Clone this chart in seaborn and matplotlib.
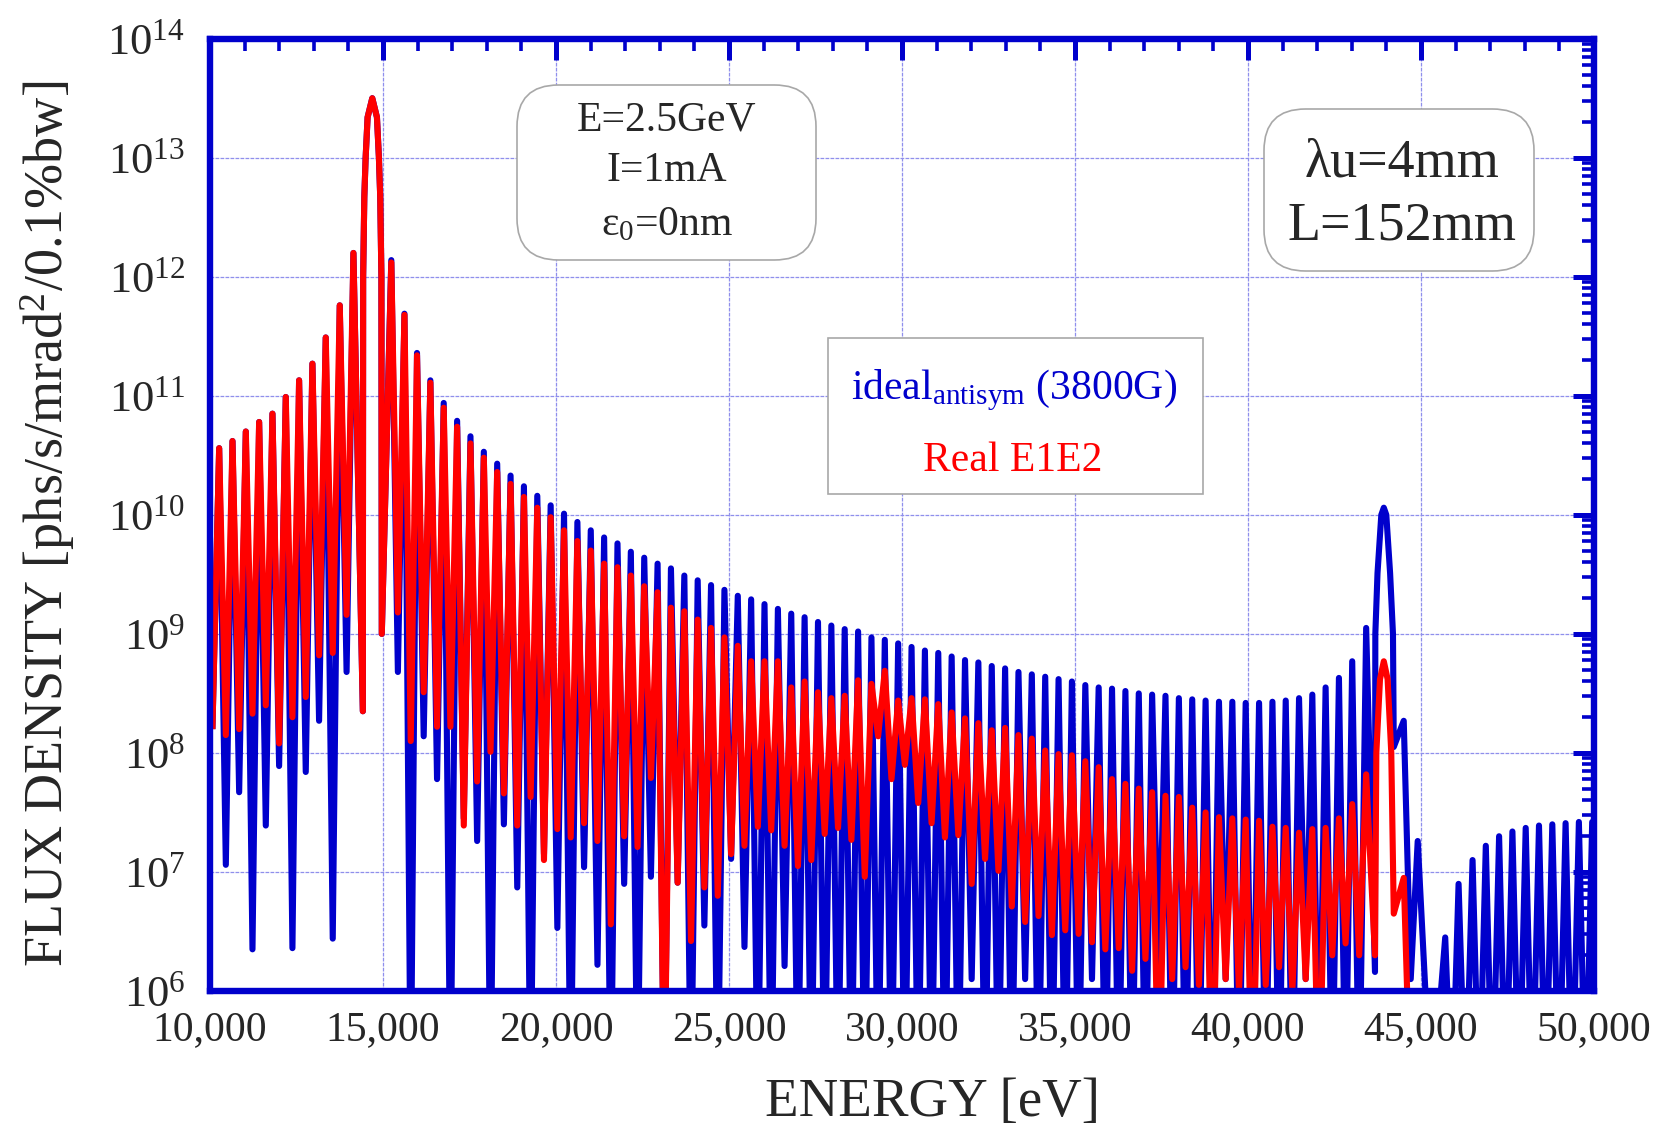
import matplotlib
matplotlib.use("Agg")
import matplotlib.pyplot as plt
from matplotlib.patches import FancyBboxPatch, Rectangle
from matplotlib.ticker import MultipleLocator, LogLocator, FuncFormatter, NullFormatter, FixedLocator
import numpy as np
import pandas as pd
import seaborn as sns

# ---------------- data ----------------
# photon energy of each spectral lobe maximum [eV]
lobe_energy = [
    10265, 10650, 11035, 11420, 11805, 12190, 12575, 12960, 13345, 13750, 14145,
    14690,
    15240, 15620,
    15983, 16369, 16755, 17142, 17528, 17914, 18300, 18687, 19073, 19459, 19846, 20232, 20618,
    21005, 21391, 21777, 22163, 22550, 22936, 23322, 23709, 24095, 24481, 24868, 25254, 25640,
    26026, 26413, 26799, 27185, 27572, 27958, 28344, 28731, 29117, 29503, 29889, 30276, 30662,
    31048, 31435, 31821, 32207, 32594, 32980, 33366, 33752, 34139, 34525, 34911, 35298, 35684,
    36070, 36457, 36843, 37229, 37615, 38002, 38388, 38774, 39161, 39547, 39933, 40320,
    40706, 41090, 41475, 41859, 42243, 42628, 43012, 43415,
    43925, 44501, 44905,
    45700, 46086, 46490, 46873, 47257, 47642, 48026, 48410, 48795, 49179, 49563, 49948,
]

# log10 of flux density at each lobe maximum
ideal_peak_log = [
    10.56, 10.62, 10.70, 10.78, 10.85, 10.99, 11.13, 11.27, 11.49, 11.76, 12.20,
    13.50,
    12.14, 11.69,
    11.36, 11.13, 10.94, 10.79, 10.66, 10.53, 10.43, 10.33, 10.24, 10.16, 10.08, 10.01, 9.94,
    9.87, 9.81, 9.76, 9.69, 9.64, 9.59, 9.55, 9.49, 9.45, 9.41, 9.37, 9.32, 9.29,
    9.25, 9.21, 9.17, 9.14, 9.10, 9.07, 9.04, 9.02, 8.97, 8.95, 8.92, 8.89, 8.86,
    8.84, 8.81, 8.78, 8.76, 8.73, 8.71, 8.68, 8.66, 8.64, 8.62, 8.60, 8.57, 8.55,
    8.54, 8.52, 8.50, 8.49, 8.48, 8.46, 8.45, 8.44, 8.43, 8.43, 8.42, 8.42,
    8.43, 8.44, 8.46, 8.49, 8.55, 8.63, 8.77, 9.05,
    10.06, 8.27, 7.26,
    6.45, 6.90, 7.10, 7.22, 7.30, 7.34, 7.37, 7.39, 7.40, 7.41, 7.42, 7.42,
]
real_peak_log = [
    10.56, 10.62, 10.70, 10.78, 10.85, 10.99, 11.13, 11.27, 11.49, 11.76, 12.20,
    13.50,
    12.12, 11.68,
    11.34, 11.11, 10.90, 10.74, 10.60, 10.48, 10.36, 10.26, 10.15, 10.06, 9.98, 9.87, 9.78,
    9.70, 9.59, 9.56, 9.49, 9.40, 9.35, 9.22, 9.19, 9.12, 9.05, 8.97, 8.90, 8.77,
    8.77, 8.77, 8.55, 8.60, 8.51, 8.46, 8.48, 8.61, 8.58, 8.69, 8.44, 8.46, 8.45,
    8.41, 8.34, 8.29, 8.25, 8.19, 8.21, 8.15, 8.12, 8.02, 7.99, 7.98, 7.93, 7.88,
    7.78, 7.74, 7.70, 7.67, 7.64, 7.63, 7.54, 7.50, 7.46, 7.45, 7.44, 7.43,
    7.38, 7.37, 7.33, 7.36, 7.37, 7.45, 7.57, 7.82,
    8.77, 6.95, 5.50,
    5.90, 5.90, 5.90, 5.90, 5.90, 5.90, 5.90, 5.90, 5.90, 5.90, 5.90, 5.90,
]

# log10 of flux density at the minimum between consecutive lobes
ideal_dip_log = [
    7.06, 7.67, 6.35, 7.39, 7.89, 6.36, 7.84, 8.27, 6.44, 8.68,
    8.35, 9.00, 8.68, 5.0, 8.14, 7.78, 5.0, 7.45, 7.26, 5.0,
    7.40, 6.87, 5.0, 7.15, 6.53, 5.0, 7.04, 6.22, 5.0, 6.90,
    5.0, 6.96, 5.0, 6.91, 5.0, 6.55, 5.0, 7.11, 6.37, 5.0,
    5.0, 6.21, 5.0, 5.0, 5.0, 5.0, 5.0, 5.0, 5.0, 5.0,
    5.0, 5.0, 5.0, 5.0, 5.0, 6.1, 5.0, 5.0, 5.0, 6.1,
    5.0, 5.0, 5.0, 5.0, 6.1, 5.0, 5.0, 5.0, 5.0, 6.1,
    5.0, 5.0, 5.0, 5.0, 6.1, 5.0, 5.0, 5.0, 5.0, 5.0,
    6.1, 5.0, 5.0, 5.0, 5.0, 6.16, 8.05, 6.1, 5.0, 5.0,
    5.0, 5.0, 5.0, 5.0, 5.0, 5.0, 5.0, 5.0, 5.0, 5.0,
]
real_dip_log = [
    8.15, 8.20, 8.33, 8.40, 8.08, 8.30, 8.47, 8.82, 8.84, 9.16,
    8.35, 9.00, 9.18, 8.10, 8.51, 8.22, 8.22, 7.39, 7.76, 8.01,
    7.66, 7.39, 7.63, 7.10, 7.36, 7.29, 7.41, 7.26, 6.56, 7.30,
    7.21, 7.79, 5.0, 6.91, 6.42, 6.87, 6.80, 7.15, 7.22, 7.38,
    7.35, 7.22, 7.05, 7.10, 7.32, 7.37, 7.27, 6.96, 8.14, 7.78,
    7.90, 7.58, 7.41, 7.29, 7.31, 6.90, 7.11, 7.01, 6.71, 6.58,
    6.63, 6.47, 6.51, 6.48, 6.41, 6.35, 6.36, 6.17, 6.27, 5.0,
    6.10, 6.20, 6.05, 5.0, 6.10, 6.00, 5.0, 6.05, 6.20, 6.00,
    6.10, 5.0, 6.30, 6.40, 6.30, 6.30, 6.65, 5.0, 5.0, 5.0,
    5.0, 5.0, 5.0, 5.0, 5.0, 5.0, 5.0, 5.0, 5.0, 5.0,
]

# flanks of the two harmonic peaks (1st and 3rd)
ideal_flank_energy = [14426, 14460, 14498, 14555, 14825, 14882, 14920, 14954,
                      43680, 43743, 43853, 43997, 44107, 44190]
ideal_flank_log = [12.0, 12.67, 13.0, 13.34, 13.34, 13.0, 12.67, 12.0,
                   9.0, 9.51, 10.0, 10.0, 9.51, 9.0]
real_flank_energy = [14426, 14460, 14498, 14555, 14825, 14882, 14920, 14954,
                     43709, 43815, 44035, 44141]
real_flank_log = [12.0, 12.67, 13.0, 13.34, 13.34, 13.0, 12.67, 12.0,
                  8.0, 8.62, 8.62, 8.0]

start_energy, end_energy = 10070, 50100
ideal_start_log, ideal_end_log = 8.2, 5.0
real_start_log, real_end_log = 8.2, 5.0

x_ticks = [10000, 15000, 20000, 25000, 30000, 35000, 40000, 45000, 50000]
y_decades = [6, 7, 8, 9, 10, 11, 12, 13, 14]

series_names = ["ideal", "real"]
BLUE = "#0000cc"
RED = "#ff0000"


def build(name, peaks, dips, start, end, flank_e, flank_v):
    e = [start_energy]
    v = [start]
    for i, en in enumerate(lobe_energy):
        e.append(en)
        v.append(peaks[i])
        if i < len(dips):
            e.append(0.5 * (en + lobe_energy[i + 1]))
            v.append(dips[i])
    e.append(end_energy)
    v.append(end)
    e += list(flank_e)
    v += list(flank_v)
    d = pd.DataFrame({"energy": e, "flux": 10.0 ** np.array(v), "series": name})
    return d.sort_values("energy", kind="stable").reset_index(drop=True)


df = pd.concat([
    build("ideal", ideal_peak_log, ideal_dip_log, ideal_start_log, ideal_end_log,
          ideal_flank_energy, ideal_flank_log),
    build("real", real_peak_log, real_dip_log, real_start_log, real_end_log,
          real_flank_energy, real_flank_log),
], ignore_index=True)

# ---------------- style ----------------
sns.set_style("white")
plt.rcParams["font.family"] = ["Liberation Serif", "DejaVu Serif"]
plt.rcParams["mathtext.fontset"] = "custom"
plt.rcParams["mathtext.rm"] = "Liberation Serif"
plt.rcParams["mathtext.it"] = "Liberation Serif:italic"
plt.rcParams["mathtext.bf"] = "Liberation Serif:bold"

fig = plt.figure(figsize=(16.65, 11.27), dpi=100)
L, R, T, B = 210, 1594, 38.7, 991
W, H = 1665, 1127
ax = fig.add_axes([L / W, 1 - B / H, (R - L) / W, (B - T) / H])

sns.lineplot(data=df, x="energy", y="flux", hue="series", hue_order=series_names,
             palette={"ideal": BLUE, "real": RED}, sort=False, estimator=None,
             units="series", linewidth=4.4, legend=False, ax=ax)
for ln in ax.lines:
    ln.set_solid_joinstyle("round")
    ln.set_solid_capstyle("butt")

ax.set_yscale("log")
ax.set_xlim(10000, 50000)
ax.set_ylim(1e6, 1e14)

ax.xaxis.set_major_locator(FixedLocator(x_ticks))
ax.xaxis.set_minor_locator(MultipleLocator(1000))
ax.xaxis.set_major_formatter(FuncFormatter(lambda v, p: f"{v:,.0f}"))
ax.yaxis.set_major_locator(FixedLocator([10.0 ** d for d in y_decades]))
ax.yaxis.set_major_formatter(FuncFormatter(
    lambda v, p: r"$\mathregular{10^{%d}}$" % int(round(np.log10(v)))))
ax.yaxis.set_minor_locator(LogLocator(base=10, subs=np.arange(2, 10), numticks=100))
ax.yaxis.set_minor_formatter(NullFormatter())

ax.grid(which="major", color="#8f8fec", linewidth=0.9, linestyle=(0, (3, 1)))
ax.set_axisbelow(True)

for s in ax.spines.values():
    s.set_color(BLUE)
    s.set_linewidth(4.6)
    s.set_zorder(5)

ax.tick_params(which="both", direction="in", top=True, right=True, color=BLUE)
ax.tick_params(which="major", length=15, width=3.6)
ax.tick_params(which="minor", length=8.5, width=2.6)
ax.tick_params(axis="x", which="major", labelsize=30, pad=14)
ax.tick_params(axis="y", which="major", labelsize=32, pad=18)

ax.set_xlabel("ENERGY [eV]", fontsize=39.5, va="center")
ax.xaxis.set_label_coords(0.522, -0.117)
ax.set_ylabel(r"FLUX DENSITY [phs/s/mrad$^\mathregular{2}$/0.1%bw]", fontsize=39, va="center")
ax.yaxis.set_label_coords(-0.117, 0.49)


def fx(px):
    return (px - L) / (R - L)


def fy(py):
    return (B - py) / (B - T)


# parameter box
box1 = FancyBboxPatch((fx(517), fy(260)), fx(816) - fx(517), fy(85) - fy(260),
                      boxstyle="round,pad=0,rounding_size=0.03", transform=ax.transAxes,
                      facecolor="white", edgecolor="#a8a8a8", linewidth=1.2, zorder=6,
                      mutation_aspect=(R - L) / (B - T))
ax.add_patch(box1)
for txt, py in [("E=2.5GeV", 120), ("I=1mA", 171), (r"ε$_\mathregular{0}$=0nm", 225)]:
    ax.text(fx(667), fy(py), txt, transform=ax.transAxes, ha="center", va="center",
            fontsize=30, zorder=7)

# undulator box
box2 = FancyBboxPatch((fx(1264), fy(271)), fx(1534) - fx(1264), fy(109) - fy(271),
                      boxstyle="round,pad=0,rounding_size=0.03", transform=ax.transAxes,
                      facecolor="white", edgecolor="#a8a8a8", linewidth=1.2, zorder=6,
                      mutation_aspect=(R - L) / (B - T))
ax.add_patch(box2)
for txt, py in [("λu=4mm", 163), ("L=152mm", 226)]:
    ax.text(fx(1402), fy(py), txt, transform=ax.transAxes, ha="center", va="center",
            fontsize=39, zorder=7)

# legend box with coloured series names
leg_box = Rectangle((fx(828), fy(494)), fx(1203) - fx(828), fy(338) - fy(494),
                    transform=ax.transAxes, facecolor="white", edgecolor="#a8a8a8",
                    linewidth=1.2, zorder=6)
ax.add_patch(leg_box)
ax.text(fx(1014), fy(399), r"ideal$_\mathregular{antisym}$ (3800G)", transform=ax.transAxes,
        ha="center", va="baseline", fontsize=30, color=BLUE, zorder=7)
ax.text(fx(1013), fy(471), "Real E1E2", transform=ax.transAxes,
        ha="center", va="baseline", fontsize=30, color=RED, zorder=7)

fig.savefig("out.png", dpi=100)
